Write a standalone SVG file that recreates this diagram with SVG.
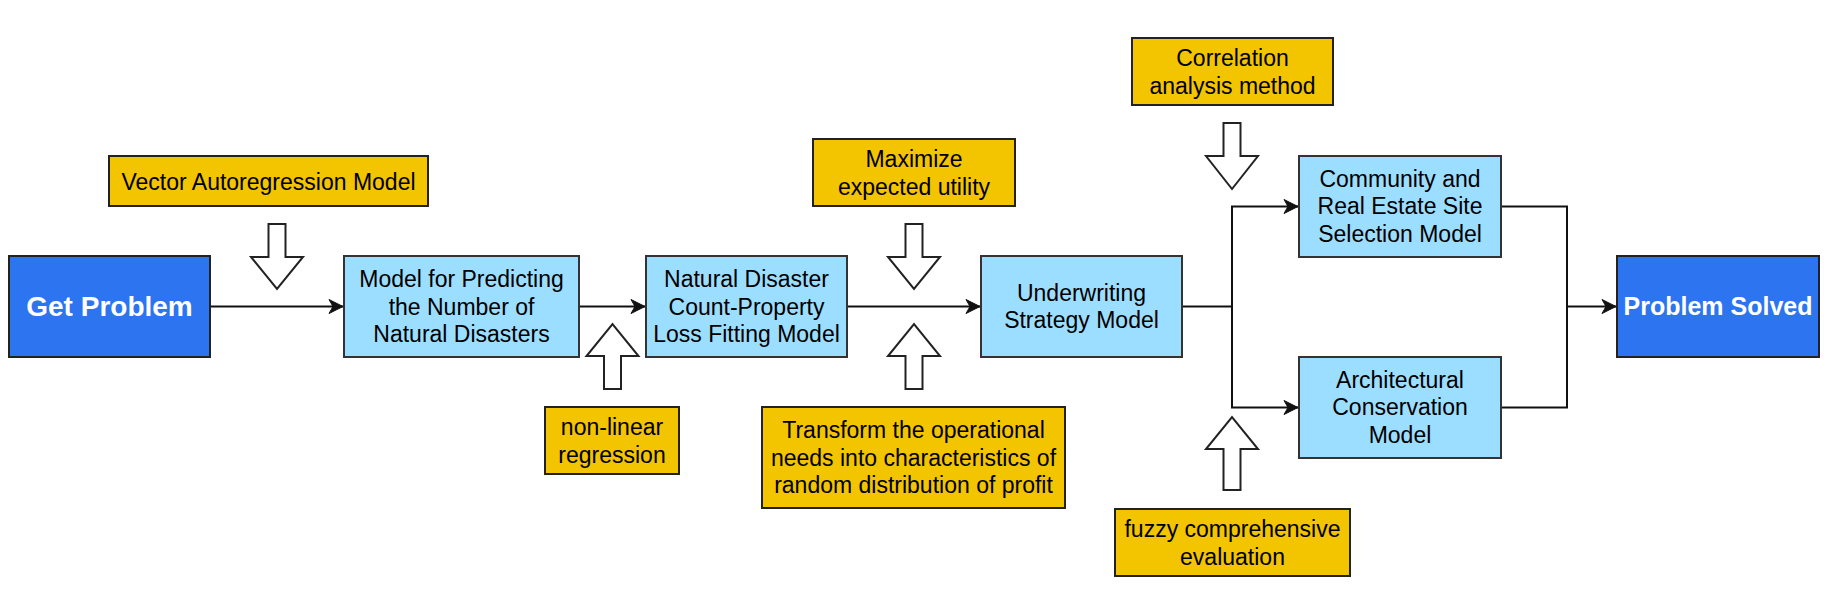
<svg xmlns="http://www.w3.org/2000/svg" width="1824" height="608" viewBox="0 0 1824 608">
<style>
.blue{fill:#2C74F0;stroke:#222;stroke-width:2}
.lb{fill:#9CDEFF;stroke:#333;stroke-width:2}
.yl{fill:#F3C400;stroke:#222;stroke-width:2}
.ha{fill:#fff;stroke:#222;stroke-width:2;stroke-linejoin:miter}
text{font-family:"Liberation Sans",Arial,sans-serif;font-size:23px;fill:#000;text-anchor:middle}
.bt{font-weight:bold;fill:#fff}
.cn{fill:none;stroke:#111;stroke-width:2}
</style>
<defs>
<marker id="ar" viewBox="-15 -8 16 16" refX="0" refY="0" markerWidth="16" markerHeight="16" markerUnits="userSpaceOnUse" orient="auto">
<path d="M0,0 L-14,-7 L-10,0 L-14,7 Z" fill="#111" stroke="#111" stroke-width="1"/>
</marker>
</defs>
<rect width="1824" height="608" fill="#fff"/>
<g id="connectors">
<path class="cn" d="M210,306.5 H343" marker-end="url(#ar)"/>
<path class="cn" d="M579,306.5 H645" marker-end="url(#ar)"/>
<path class="cn" d="M847,306.5 H980" marker-end="url(#ar)"/>
<path class="cn" d="M1182,306.5 H1232 V206.5 H1298" marker-end="url(#ar)"/>
<path class="cn" d="M1232,306.5 V407.5 H1298" marker-end="url(#ar)"/>
<path class="cn" d="M1501,206.5 H1567 V407.5 H1501"/>
<path class="cn" d="M1567,306.5 H1616" marker-end="url(#ar)"/>
</g>
<g id="get-problem">
<rect class="blue" x="9" y="256" width="201" height="101"/>
<text class="bt" x="109.5" y="316" style="font-size:28px">Get Problem</text>
</g>
<g id="vector-autoregression">
<rect class="yl" x="109" y="156" width="319" height="50"/>
<text x="268.5" y="189.5">Vector Autoregression Model</text>
</g>
<g id="arrow-var">
<path class="ha" d="M268.5,224 H285.5 V257 H303 L277,289 L251,257 H268.5 Z"/>
</g>
<g id="model-predicting">
<rect class="lb" x="344" y="256" width="235" height="101"/>
<text x="461.5" y="287">Model for Predicting</text>
<text x="461.5" y="314.5">the Number of</text>
<text x="461.5" y="342">Natural Disasters</text>
</g>
<g id="arrow-nonlinear">
<path class="ha" d="M604,389 H621 V356 H638.5 L612.5,324 L586.5,356 H604 Z"/>
</g>
<g id="non-linear-regression">
<rect class="yl" x="545" y="407" width="134" height="67"/>
<text x="612" y="435">non-linear</text>
<text x="612" y="462.5">regression</text>
</g>
<g id="natural-disaster-fitting">
<rect class="lb" x="646" y="256" width="201" height="101"/>
<text x="746.5" y="287">Natural Disaster</text>
<text x="746.5" y="314.5">Count-Property</text>
<text x="746.5" y="342">Loss Fitting Model</text>
</g>
<g id="maximize-utility">
<rect class="yl" x="813" y="139" width="202" height="67"/>
<text x="914" y="167">Maximize</text>
<text x="914" y="194.5">expected utility</text>
</g>
<g id="arrow-maximize">
<path class="ha" d="M905.5,224 H922.5 V257 H940 L914,289 L888,257 H905.5 Z"/>
</g>
<g id="arrow-transform">
<path class="ha" d="M905.5,389 H922.5 V356 H940 L914,324 L888,356 H905.5 Z"/>
</g>
<g id="transform-needs">
<rect class="yl" x="762" y="407" width="303" height="101"/>
<text x="913.5" y="438">Transform the operational</text>
<text x="913.5" y="465.5">needs into characteristics of</text>
<text x="913.5" y="493">random distribution of profit</text>
</g>
<g id="underwriting-strategy">
<rect class="lb" x="981" y="256" width="201" height="101"/>
<text x="1081.5" y="300.5">Underwriting</text>
<text x="1081.5" y="328">Strategy Model</text>
</g>
<g id="correlation-analysis">
<rect class="yl" x="1132" y="38" width="201" height="67"/>
<text x="1232.5" y="66">Correlation</text>
<text x="1232.5" y="93.5">analysis method</text>
</g>
<g id="arrow-correlation">
<path class="ha" d="M1223.5,123 H1240.5 V156 H1258 L1232,189 L1206,156 H1223.5 Z"/>
</g>
<g id="community-site-selection">
<rect class="lb" x="1299" y="156" width="202" height="101"/>
<text x="1400" y="186.5">Community and</text>
<text x="1400" y="214">Real Estate Site</text>
<text x="1400" y="241.5">Selection Model</text>
</g>
<g id="architectural-conservation">
<rect class="lb" x="1299" y="357" width="202" height="101"/>
<text x="1400" y="387.5">Architectural</text>
<text x="1400" y="415">Conservation</text>
<text x="1400" y="442.5">Model</text>
</g>
<g id="arrow-fuzzy">
<path class="ha" d="M1223.5,490 H1240.5 V449 H1258 L1232,417 L1206,449 H1223.5 Z"/>
</g>
<g id="fuzzy-evaluation">
<rect class="yl" x="1115" y="509" width="235" height="67"/>
<text x="1232.5" y="537">fuzzy comprehensive</text>
<text x="1232.5" y="564.5">evaluation</text>
</g>
<g id="problem-solved">
<rect class="blue" x="1617" y="256" width="202" height="101"/>
<text class="bt" x="1718" y="315" style="font-size:25px">Problem Solved</text>
</g>
</svg>
